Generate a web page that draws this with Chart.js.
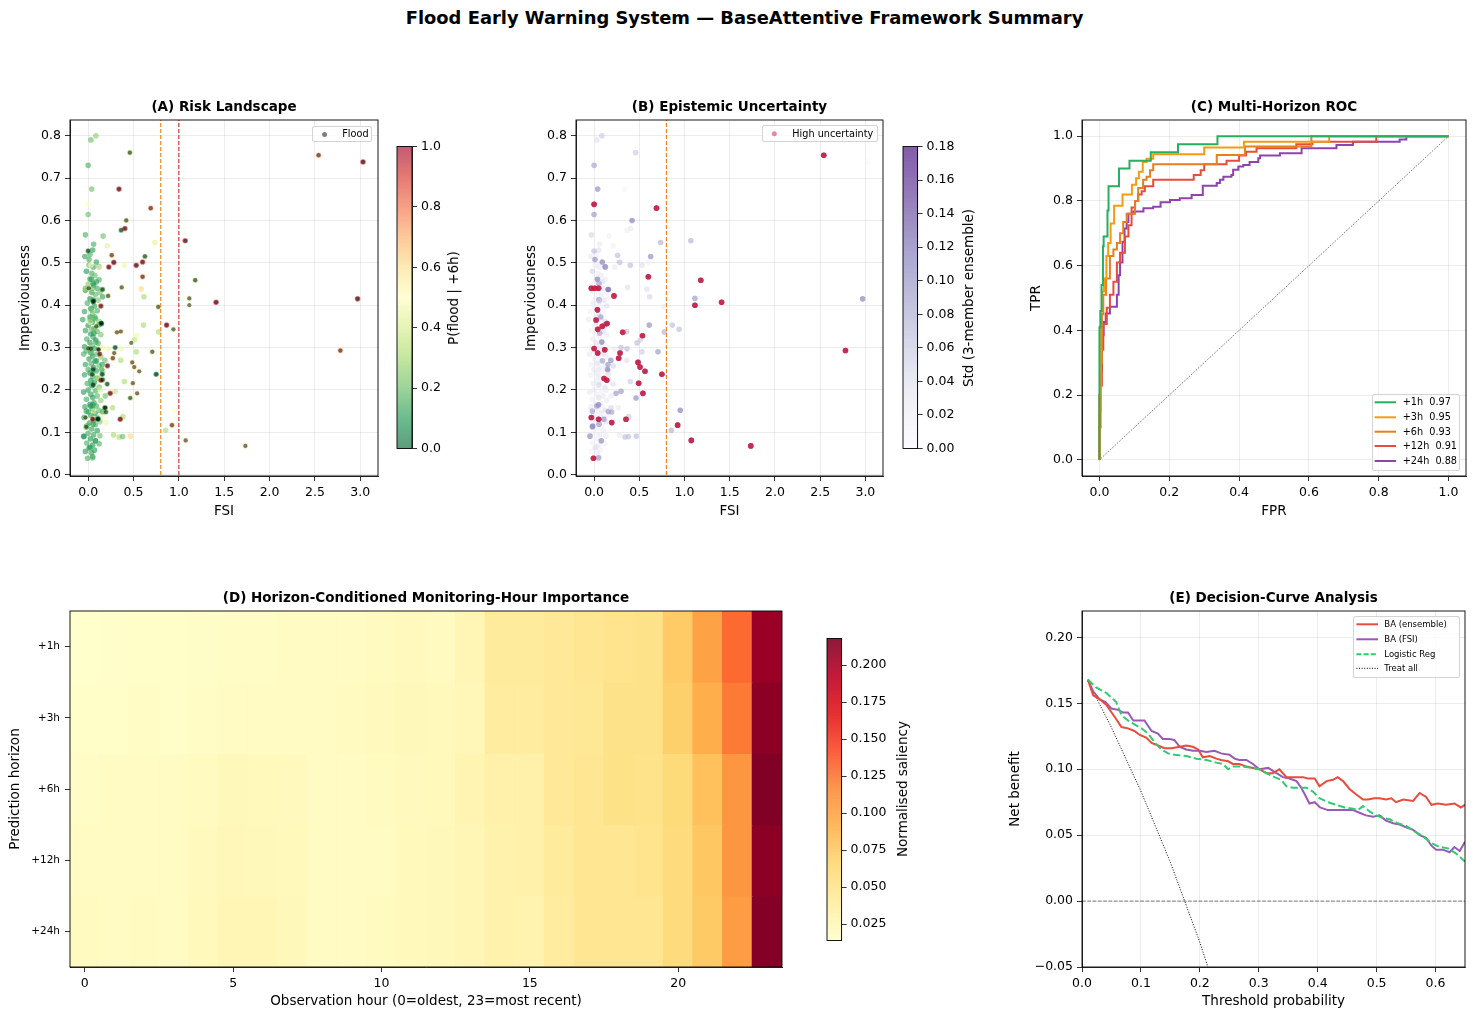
<!DOCTYPE html>
<html><head><meta charset="utf-8">
<script src="https://cdn.jsdelivr.net/npm/chart.js@4.4.1/dist/chart.umd.min.js"></script>
<style>
body{margin:0;width:1475px;height:1020px;overflow:hidden;background:#fff;position:relative;font-family:"DejaVu Sans",sans-serif;}
canvas{position:absolute;}
.lg{position:absolute;border:1px solid rgba(204,204,204,0.85);border-radius:2.5px;background:rgba(255,255,255,0.8);box-sizing:border-box;}
.lg .row{position:absolute;white-space:pre;color:#000;}
.cbl{position:absolute;transform:translate(-50%,-50%) rotate(-90deg);white-space:nowrap;font-size:13.5px;line-height:16px;}
#sup{position:absolute;top:7px;left:7px;width:1475px;text-align:center;font-weight:bold;font-size:17.9px;line-height:22px;}
</style></head><body>
<div id="sup">Flood Early Warning System — BaseAttentive Framework Summary</div>
<script>
// ---------------- DATA ----------------
// sites: [FSI, imperviousness, P(flood | +6h), ensemble std, flooded(1/0)]
const sites = [
[-0.036,0.515,0.12,0.03,0],[0.02,0.52,0.15,0.02,0],[0.05,0.53,0.1,0.04,0],[0.01,0.495,0.18,0.02,0],[0.055,0.49,0.12,0.03,0],[-0.02,0.48,0.1,0.05,0],[0.04,0.475,0.15,0.02,0],[0.075,0.47,0.2,0.03,0],[0.02,0.462,0.12,0.02,0],[0.09,0.455,0.1,0.04,0],[0.12,0.46,0.15,0.03,0],[0.0,0.45,0.25,0.02,0],[0.06,0.447,0.12,0.02,0],
[0.1,0.44,0.14,0.03,0],[-0.03,0.435,0.1,0.04,0],[0.04,0.43,0.12,0.02,0],[0.08,0.425,0.18,0.03,0],[0.13,0.43,0.2,0.02,0],[0.02,0.415,0.1,0.03,0],[0.11,0.412,0.22,0.04,0],[0.16,0.42,0.12,0.02,0],[-0.01,0.405,0.15,0.03,0],[0.07,0.398,0.12,0.02,0],[0.03,0.392,0.1,0.03,0],[0.1,0.387,0.15,0.02,0],[0.05,0.38,0.2,0.04,0],[-0.04,0.385,0.12,0.02,0],
[0.02,0.372,0.1,0.03,0],[0.08,0.368,0.15,0.02,0],[-0.06,0.366,0.12,0.03,0],[0.045,0.36,0.12,0.02,0],[0.12,0.362,0.25,0.04,0],[0.0,0.352,0.1,0.02,0],[0.065,0.345,0.15,0.03,0],[-0.03,0.34,0.12,0.02,0],[0.1,0.338,0.18,0.04,0],[0.03,0.332,0.1,0.02,0],[0.14,0.33,0.22,0.03,0],[0.055,0.325,0.12,0.02,0],[-0.015,0.32,0.15,0.03,0],[0.085,0.318,0.1,0.02,0],[0.02,0.312,0.12,0.04,0],[0.11,0.31,0.15,0.02,0],[0.045,0.305,0.2,0.03,0],[-0.04,0.302,0.1,0.02,0],
[0.07,0.298,0.12,0.03,0],[-0.02,0.292,0.15,0.02,0],[0.03,0.288,0.12,0.03,0],[0.1,0.285,0.18,0.04,0],[0.05,0.28,0.1,0.02,0],[-0.05,0.285,0.15,0.03,0],[0.14,0.278,0.25,0.02,0],[0.01,0.273,0.12,0.03,0],[0.075,0.268,0.1,0.02,0],[0.035,0.262,0.15,0.04,0],[-0.03,0.26,0.12,0.02,0],[0.12,0.258,0.2,0.03,0],[0.06,0.253,0.1,0.02,0],[0.0,0.248,0.15,0.03,0],[0.09,0.245,0.12,0.02,0],[0.02,0.24,0.1,0.03,0],[0.16,0.245,0.3,0.04,0],[-0.04,0.236,0.12,0.02,0],[0.05,0.232,0.15,0.03,0],[0.1,0.228,0.18,0.02,0],[0.03,0.222,0.1,0.03,0],
[0.07,0.218,0.12,0.02,0],[-0.01,0.215,0.15,0.03,0],[0.04,0.21,0.1,0.02,0],[0.12,0.207,0.2,0.04,0],[0.0,0.2,0.12,0.03,0],[0.08,0.198,0.15,0.02,0],[-0.05,0.195,0.1,0.03,0],[0.03,0.19,0.12,0.02,0],[0.1,0.186,0.18,0.03,0],[0.05,0.182,0.1,0.04,0],[-0.02,0.178,0.15,0.02,0],[0.14,0.175,0.25,0.03,0],[0.065,0.17,0.12,0.02,0],[0.02,0.166,0.1,0.03,0],[0.09,0.162,0.15,0.02,0],[-0.035,0.16,0.12,0.03,0],[0.045,0.155,0.1,0.02,0],[0.12,0.152,0.2,0.04,0],[0.0,0.148,0.15,0.02,0],[0.075,0.145,0.1,0.03,0],
[0.03,0.14,0.12,0.02,0],[-0.045,0.135,0.1,0.03,0],[0.1,0.135,0.18,0.02,0],[0.06,0.128,0.1,0.03,0],[0.015,0.122,0.12,0.02,0],[0.13,0.125,0.25,0.04,0],[0.08,0.118,0.15,0.02,0],[-0.02,0.112,0.1,0.03,0],[0.04,0.108,0.12,0.02,0],[0.1,0.104,0.1,0.03,0],[0.0,0.098,0.15,0.02,0],[0.06,0.094,0.12,0.03,0],[-0.05,0.09,0.1,0.02,0],[0.13,0.092,0.2,0.03,0],[0.025,0.085,0.1,0.02,0],[0.08,0.08,0.12,0.03,0],[-0.015,0.075,0.15,0.02,0],[0.05,0.07,0.1,0.03,0],[0.12,0.073,0.15,0.02,0],[0.01,0.063,0.12,0.03,0],[0.07,0.058,0.1,0.02,0],[0.035,0.052,0.12,0.03,0],[-0.03,0.055,0.1,0.02,0],[0.05,0.043,0.15,0.02,0],[0.02,0.065,0.1,0.04,0],
[0.03,0.495,0.5,0.02,0],[-0.03,0.44,0.45,0.03,0],[0.16,0.3,0.45,0.02,0],[0.13,0.2,0.4,0.03,0],[0.15,0.14,0.45,0.02,0],[0.02,0.36,0.45,0.04,0],[0.06,0.15,0.4,0.02,0],
[0.055,0.408,0.1,0.03,1],[0.147,0.357,0.1,0.04,1],[0.03,0.297,0.15,0.03,1],[0.11,0.296,0.2,0.04,1],[0.055,0.248,0.1,0.03,1],[0.045,0.237,0.15,0.02,1],[0.16,0.224,0.2,0.03,1],[0.055,0.212,0.1,0.05,1],[0.185,0.158,0.15,0.03,1],[0.11,0.132,0.1,0.04,1],[0.127,0.285,0.85,0.03,1],
[0.01,0.508,0.15,0.11,0],[0.09,0.502,0.12,0.12,0],[0.12,0.491,0.15,0.1,0],[0.037,0.461,0.12,0.12,0],[0.055,0.451,0.1,0.09,0],[0.155,0.437,0.2,0.12,0],[0.055,0.413,0.12,0.11,0],[0.074,0.372,0.15,0.1,0],[0.12,0.354,0.12,0.12,0],[0.063,0.334,0.1,0.09,0],[0.085,0.313,0.15,0.12,0],[0.185,0.27,0.2,0.11,0],[0.155,0.26,0.12,0.1,0],[0.148,0.248,0.15,0.12,0],[0.092,0.269,0.1,0.09,0],[0.05,0.165,0.12,0.12,0],[0.03,0.162,0.1,0.1,0],[-0.02,0.15,0.12,0.09,0],[0.158,0.149,0.15,0.1,0],[-0.015,0.115,0.1,0.12,0],[0.055,0.119,0.12,0.1,0],[-0.045,0.091,0.1,0.11,0],[0.08,0.08,0.12,0.11,0],[0.05,0.04,0.15,0.1,0],
[0.03,0.79,0.2,0.04,0],[0.085,0.80,0.25,0.06,0],[0.46,0.76,0.3,0.06,1],[0.0,0.73,0.15,0.09,0],[0.04,0.674,0.2,0.11,0],[0.34,0.674,0.92,0.01,1],[0.0,0.638,0.5,0.16,0],[0.69,0.629,0.75,0.15,1],[0.0,0.614,0.2,0.1,0],[0.42,0.60,0.35,0.12,1],
[0.405,0.581,0.92,0.03,1],[0.364,0.577,0.2,0.02,1],[-0.03,0.566,0.15,0.05,0],[0.165,0.563,0.2,0.02,0],[1.07,0.552,0.92,0.08,1],[0.736,0.548,0.42,0.08,0],[0.21,0.54,0.42,0.02,0],[0.06,0.544,0.15,0.03,0],[0.0,0.528,0.15,0.07,1],[0.26,0.518,0.7,0.07,1],
[0.283,0.501,0.92,0.07,1],[0.228,0.49,0.92,0.03,1],[0.53,0.494,0.92,0.04,1],[0.60,0.502,0.92,0.02,1],[0.626,0.515,0.25,0.11,1],[0.40,0.494,0.45,0.07,0],[0.125,0.49,0.55,0.1,0],[0.60,0.467,0.75,0.16,1],[1.18,0.459,0.3,0.15,1],[0.37,0.442,0.4,0.04,1],
[0.585,0.438,0.62,0.04,0],[0.007,0.44,0.3,0.16,1],[0.158,0.437,0.2,0.12,1],[0.615,0.42,0.3,0.05,0],[0.22,0.422,0.35,0.15,1],[1.115,0.416,0.4,0.1,1],[1.115,0.40,0.5,0.15,1],[1.41,0.407,0.95,0.15,1],[2.97,0.415,0.95,0.12,1],[0.773,0.396,0.35,0.03,1],
[0.14,0.398,0.9,0.04,1],[0.06,0.41,0.1,0.05,1],[0.865,0.353,0.95,0.07,1],[0.94,0.343,0.4,0.07,1],[0.61,0.353,0.3,0.11,0],[0.777,0.337,0.3,0.08,0],[0.317,0.336,0.6,0.15,1],[0.36,0.338,0.6,0.07,1],[0.535,0.328,0.45,0.15,0],[0.143,0.357,0.1,0.15,1],
[0.09,0.35,0.3,0.15,1],[0.475,0.311,0.5,0.07,1],[0.51,0.318,0.35,0.06,0],[0.298,0.30,0.15,0.07,1],[0.707,0.29,0.35,0.1,1],[0.53,0.29,0.3,0.06,0],[0.287,0.287,0.6,0.15,1],[2.78,0.293,0.75,0.16,1],[0.364,0.297,0.45,0.07,0],[0.224,0.297,0.45,0.03,0],
[0.118,0.295,0.5,0.15,1],[0.272,0.275,0.7,0.15,1],[0.486,0.265,0.6,0.16,1],[0.508,0.254,0.6,0.15,1],[0.563,0.244,0.55,0.15,1],[0.36,0.27,0.3,0.04,0],[0.213,0.257,0.9,0.05,1],[0.75,0.237,0.1,0.15,1],[0.155,0.237,0.1,0.04,1],[0.40,0.22,0.3,0.06,0],
[0.493,0.216,0.6,0.16,1],[0.14,0.223,0.9,0.15,1],[0.21,0.214,0.2,0.04,1],[0.298,0.197,0.35,0.1,0],[0.243,0.192,0.9,0.1,1],[0.54,0.192,0.6,0.15,1],[0.464,0.181,0.3,0.11,1],[0.188,0.186,0.2,0.03,0],[0.953,0.152,0.5,0.12,0],[0.188,0.158,0.2,0.04,1],
[0.195,0.148,0.2,0.09,1],[0.268,0.158,0.3,0.03,0],[0.383,0.137,0.3,0.06,0],[0.353,0.131,0.9,0.15,1],[0.107,0.131,0.1,0.1,1],[0.05,0.131,0.85,0.15,1],[0.924,0.117,0.7,0.16,1],[0.195,0.123,0.45,0.15,0],[0.854,0.105,0.3,0.08,0],[0.467,0.091,0.62,0.07,0],
[0.28,0.094,0.3,0.03,0],[0.342,0.089,0.3,0.07,0],[0.38,0.09,0.2,0.07,0],[1.075,0.081,0.6,0.16,1],[1.733,0.068,0.6,0.16,1],[2.54,0.754,0.75,0.17,1],[3.03,0.738,0.95,0.01,1],[-0.007,0.039,0.15,0.15,0],[-0.03,0.135,0.3,0.15,1],[-0.02,0.113,0.3,0.1,1],
[0.022,0.365,0.2,0.15,0],[0.037,0.389,0.2,0.15,0],[0.04,0.343,0.2,0.15,0],[0.0,0.298,0.3,0.15,1],[0.04,0.287,0.2,0.15,0],[0.11,0.227,0.3,0.15,0],[-0.03,0.44,0.2,0.16,0],[0.05,0.44,0.2,0.16,0]
];
const fsiThresholds = [0.8, 1.0];          // orange: alert, red: danger
const uncThreshold = 0.14;                 // std above which a site is "High uncertainty"
const stdMax = 0.18;
const fsiTicks = [0,0.5,1.0,1.5,2.0,2.5,3.0];
const impTicks = [0,0.1,0.2,0.3,0.4,0.5,0.6,0.7,0.8];
const probTicks = [0,0.2,0.4,0.6,0.8,1.0];
const stdTicks = [0,0.02,0.04,0.06,0.08,0.10,0.12,0.14,0.16,0.18];

const horizons = ['+1h','+3h','+6h','+12h','+24h'];
const rocAuc = [0.97,0.95,0.93,0.91,0.88];
const roc1h = [[0,0],[0,0.41],[0.003,0.41],[0.003,0.46],[0.006,0.46],[0.006,0.54],[0.01,0.54],[0.01,0.66],[0.012,0.66],[0.012,0.69],[0.023,0.69],[0.023,0.77],[0.026,0.77],[0.026,0.845],[0.056,0.845],[0.056,0.90],[0.086,0.90],[0.086,0.924],[0.147,0.924],[0.147,0.95],[0.225,0.95],[0.225,0.975],[0.338,0.975],[0.338,1.0],[1,1]];
const roc3h = [[0,0],[0,0.2],[0.002,0.2],[0.002,0.35],[0.004,0.35],[0.004,0.46],[0.008,0.46],[0.008,0.52],[0.013,0.52],[0.013,0.56],[0.02,0.56],[0.02,0.63],[0.025,0.63],[0.025,0.67],[0.032,0.67],[0.032,0.73],[0.042,0.73],[0.042,0.785],[0.066,0.785],[0.066,0.82],[0.093,0.82],[0.093,0.85],[0.105,0.85],[0.105,0.87],[0.113,0.87],[0.113,0.89],[0.124,0.89],[0.124,0.92],[0.135,0.92],[0.135,0.93],[0.154,0.93],[0.154,0.944],[0.30,0.944],[0.30,0.965],[0.414,0.965],[0.414,0.983],[0.658,0.983],[0.658,1.0],[1,1]];
const roc6h = [[0,0],[0,0.15],[0.003,0.15],[0.003,0.30],[0.007,0.30],[0.007,0.45],[0.011,0.45],[0.011,0.51],[0.019,0.51],[0.019,0.56],[0.03,0.56],[0.03,0.63],[0.04,0.63],[0.04,0.65],[0.05,0.65],[0.05,0.67],[0.059,0.67],[0.059,0.70],[0.068,0.70],[0.068,0.735],[0.078,0.735],[0.078,0.76],[0.102,0.76],[0.102,0.80],[0.111,0.80],[0.111,0.84],[0.125,0.84],[0.125,0.865],[0.135,0.865],[0.135,0.875],[0.145,0.875],[0.145,0.895],[0.154,0.895],[0.154,0.913],[0.336,0.913],[0.336,0.942],[0.417,0.942],[0.417,0.968],[0.607,0.968],[0.607,1.0],[1,1]];
const roc12h = [[0,0],[0,0.10],[0.003,0.10],[0.003,0.23],[0.007,0.23],[0.007,0.34],[0.011,0.34],[0.011,0.42],[0.021,0.42],[0.021,0.47],[0.03,0.47],[0.03,0.51],[0.04,0.51],[0.04,0.55],[0.05,0.55],[0.05,0.61],[0.059,0.61],[0.059,0.64],[0.073,0.64],[0.073,0.69],[0.083,0.69],[0.083,0.725],[0.092,0.725],[0.092,0.78],[0.102,0.78],[0.102,0.80],[0.111,0.80],[0.111,0.82],[0.121,0.82],[0.121,0.83],[0.13,0.83],[0.13,0.845],[0.154,0.845],[0.154,0.865],[0.27,0.865],[0.27,0.88],[0.29,0.88],[0.29,0.895],[0.3,0.895],[0.3,0.913],[0.364,0.913],[0.364,0.924],[0.40,0.924],[0.40,0.94],[0.42,0.94],[0.42,0.952],[0.45,0.952],[0.45,0.963],[0.564,0.963],[0.564,0.975],[0.61,0.975],[0.61,0.983],[0.793,0.983],[0.793,1.0],[1,1]];
const roc24h = [[0,0],[0,0.2],[0.002,0.2],[0.002,0.28],[0.007,0.28],[0.007,0.385],[0.012,0.385],[0.012,0.426],[0.018,0.426],[0.018,0.452],[0.03,0.452],[0.03,0.473],[0.05,0.473],[0.05,0.51],[0.055,0.51],[0.055,0.57],[0.059,0.57],[0.059,0.61],[0.066,0.61],[0.066,0.674],[0.072,0.674],[0.072,0.715],[0.078,0.715],[0.078,0.735],[0.083,0.735],[0.083,0.76],[0.097,0.76],[0.097,0.767],[0.126,0.767],[0.126,0.777],[0.154,0.777],[0.154,0.782],[0.175,0.782],[0.175,0.796],[0.202,0.796],[0.202,0.803],[0.23,0.803],[0.23,0.808],[0.264,0.808],[0.264,0.818],[0.296,0.818],[0.296,0.847],[0.336,0.847],[0.336,0.855],[0.345,0.855],[0.345,0.865],[0.355,0.865],[0.355,0.875],[0.378,0.875],[0.378,0.88],[0.383,0.88],[0.383,0.896],[0.398,0.896],[0.398,0.906],[0.412,0.906],[0.412,0.911],[0.43,0.911],[0.43,0.92],[0.455,0.92],[0.455,0.932],[0.46,0.932],[0.46,0.94],[0.517,0.94],[0.517,0.947],[0.579,0.947],[0.579,0.963],[0.679,0.963],[0.679,0.973],[0.726,0.973],[0.726,0.983],[0.86,0.983],[0.86,0.99],[0.879,0.99],[0.879,1.0],[1,1]];
const rocTicks = [0,0.2,0.4,0.6,0.8,1.0];

const hours = [0,1,2,3,4,5,6,7,8,9,10,11,12,13,14,15,16,17,18,19,20,21,22,23];
const hourTicks = [0,5,10,15,20];
const sal1h  = [0.014,0.015,0.016,0.016,0.017,0.018,0.018,0.019,0.019,0.020,0.021,0.022,0.021,0.028,0.042,0.042,0.0445,0.048,0.051,0.053,0.074,0.101,0.130,0.207];
const sal3h  = [0.016,0.016,0.018,0.016,0.018,0.019,0.019,0.020,0.020,0.021,0.022,0.024,0.023,0.026,0.041,0.041,0.044,0.046,0.053,0.053,0.071,0.093,0.124,0.213];
const sal6h  = [0.018,0.019,0.019,0.019,0.021,0.024,0.023,0.022,0.020,0.020,0.021,0.022,0.023,0.029,0.034,0.034,0.044,0.048,0.054,0.052,0.063,0.081,0.110,0.218];
const sal12h = [0.020,0.019,0.020,0.019,0.022,0.025,0.024,0.023,0.019,0.020,0.020,0.023,0.024,0.027,0.032,0.034,0.042,0.048,0.048,0.051,0.061,0.077,0.110,0.213];
const sal24h = [0.021,0.020,0.021,0.020,0.023,0.027,0.027,0.024,0.020,0.020,0.021,0.023,0.024,0.027,0.032,0.031,0.041,0.048,0.048,0.048,0.061,0.075,0.106,0.216];
const salTicks = [0.025,0.050,0.075,0.100,0.125,0.150,0.175,0.200];

const dcaEnsemble = [[0.01,0.168],[0.019,0.156],[0.03,0.153],[0.041,0.149],[0.055,0.14],[0.067,0.132],[0.078,0.131],[0.089,0.129],[0.098,0.126],[0.109,0.124],[0.118,0.12],[0.129,0.118],[0.14,0.116],[0.152,0.116],[0.166,0.117],[0.177,0.118],[0.188,0.117],[0.197,0.115],[0.205,0.109],[0.217,0.11],[0.228,0.108],[0.236,0.107],[0.248,0.106],[0.256,0.104],[0.267,0.104],[0.279,0.102],[0.29,0.101],[0.301,0.1],[0.313,0.097],[0.324,0.097],[0.335,0.1],[0.347,0.094],[0.358,0.094],[0.375,0.094],[0.383,0.093],[0.395,0.093],[0.403,0.087],[0.415,0.091],[0.426,0.092],[0.434,0.094],[0.443,0.091],[0.454,0.085],[0.465,0.081],[0.477,0.077],[0.485,0.077],[0.496,0.078],[0.505,0.078],[0.516,0.077],[0.525,0.078],[0.533,0.075],[0.545,0.077],[0.562,0.076],[0.573,0.082],[0.584,0.079],[0.593,0.073],[0.604,0.074],[0.618,0.073],[0.632,0.074],[0.643,0.071],[0.65,0.073]];
const dcaFsi = [[0.01,0.168],[0.019,0.159],[0.03,0.153],[0.04,0.151],[0.05,0.146],[0.061,0.145],[0.07,0.143],[0.078,0.143],[0.087,0.137],[0.097,0.137],[0.106,0.137],[0.118,0.129],[0.129,0.127],[0.137,0.123],[0.149,0.123],[0.157,0.122],[0.166,0.117],[0.177,0.115],[0.188,0.114],[0.2,0.114],[0.211,0.113],[0.225,0.114],[0.236,0.112],[0.25,0.111],[0.259,0.108],[0.267,0.107],[0.279,0.107],[0.29,0.104],[0.301,0.1],[0.316,0.101],[0.33,0.097],[0.341,0.094],[0.352,0.093],[0.364,0.091],[0.372,0.086],[0.378,0.081],[0.386,0.074],[0.395,0.075],[0.404,0.071],[0.417,0.069],[0.431,0.069],[0.443,0.069],[0.46,0.069],[0.471,0.067],[0.482,0.065],[0.494,0.064],[0.505,0.065],[0.516,0.061],[0.528,0.059],[0.539,0.058],[0.55,0.056],[0.562,0.054],[0.573,0.05],[0.584,0.048],[0.593,0.042],[0.601,0.039],[0.612,0.039],[0.624,0.037],[0.632,0.041],[0.641,0.038],[0.65,0.045]];
const dcaLogit = [[0.01,0.168],[0.024,0.162],[0.041,0.158],[0.058,0.151],[0.067,0.141],[0.078,0.137],[0.089,0.134],[0.101,0.131],[0.112,0.127],[0.124,0.12],[0.135,0.115],[0.146,0.112],[0.157,0.111],[0.177,0.11],[0.194,0.108],[0.211,0.107],[0.228,0.105],[0.239,0.104],[0.248,0.1],[0.256,0.102],[0.273,0.102],[0.29,0.101],[0.301,0.1],[0.313,0.097],[0.327,0.094],[0.338,0.092],[0.347,0.087],[0.358,0.086],[0.369,0.086],[0.381,0.086],[0.392,0.083],[0.403,0.078],[0.417,0.075],[0.431,0.073],[0.446,0.071],[0.46,0.07],[0.468,0.069],[0.477,0.072],[0.488,0.068],[0.499,0.065],[0.511,0.063],[0.522,0.062],[0.536,0.059],[0.55,0.057],[0.564,0.053],[0.579,0.049],[0.593,0.044],[0.607,0.041],[0.621,0.04],[0.635,0.036],[0.65,0.03]];
const dcaTreatAll = [[0.01,0.1667],[0.05,0.1316],[0.1,0.0833],[0.15,0.0294],[0.2,-0.0313],[0.25,-0.1]];
const dcaXTicks = [0,0.1,0.2,0.3,0.4,0.5,0.6];
const dcaYTicks = [-0.05,0,0.05,0.10,0.15,0.20];

// ---------------- STYLE / HELPERS ----------------
Chart.defaults.font.family = 'DejaVu Sans';
Chart.defaults.color = '#000';
Chart.defaults.animation = false;
Chart.defaults.events = [];
Chart.defaults.plugins.legend.display = false;
Chart.defaults.plugins.tooltip.enabled = false;

const hex = h => [parseInt(h.slice(1,3),16),parseInt(h.slice(3,5),16),parseInt(h.slice(5,7),16)];
function makeCmap(list){ const st=list.map(hex); const n=st.length-1;
  return t => { t=Math.min(1,Math.max(0,t)); const f=t*n; const i=Math.min(n-1,Math.floor(f)); const u=f-i;
    return [0,1,2].map(k=>st[i][k]+(st[i+1][k]-st[i][k])*u); }; }
const rgba = (c,a) => `rgba(${Math.round(c[0])},${Math.round(c[1])},${Math.round(c[2])},${a})`;
const rdylgnR = makeCmap(['#006837','#1a9850','#66bd63','#a6d96a','#d9ef8b','#ffffbf','#fee08b','#fdae61','#f46d43','#d73027','#a50026']);
const purples = makeCmap(['#fcfbfd','#efedf5','#dadaeb','#bcbddc','#9e9ac8','#807dba','#6a51a3','#54278f','#3f007d']);
const ylorrd = makeCmap(['#ffffcc','#ffeda0','#fed976','#feb24c','#fd8d3c','#fc4e2a','#e31a1c','#bd0026','#800026']);

function mkCanvas(left, top, w, h){ const c=document.createElement('canvas'); c.width=w; c.height=h;
  Object.assign(c.style,{left:left+'px',top:top+'px',width:w+'px',height:h+'px'}); document.body.appendChild(c); return c; }

const GRID = 'rgba(176,176,176,0.3)';
function linAxis(o){
  return { type:'linear', position:o.position, min:o.min, max:o.max, reverse:!!o.reverse,
    afterBuildTicks: s => { s.ticks = o.ticks.map(v=>({value:v})); },
    afterFit: s => { if (o.horizontal) s.height = o.fit; else s.width = o.fit; },
    ticks:{ callback:v=>o.fmt(v), font:{size:o.fs||12.5}, padding:o.tpad!==undefined?o.tpad:4, autoSkip:false, maxRotation:0, color:'#000' },
    grid:{ color:GRID, lineWidth:0.8, drawOnChartArea:o.grid!==false, tickColor:'#000', tickLength:5, tickWidth:0.8 },
    border:{ color:'#000', width:0.8 },
    title: o.title ? {display:true, text:o.title, font:{size:13.5}, padding:o.titlePad, color:'#000'} : {display:false}
  };
}
// invisible right-hand spacer so that the panel title is centred over the plot area
const spacer = w => ({ type:'linear', position:'right', display:true, min:0, max:1,
  ticks:{display:false}, grid:{display:false, drawTicks:false}, border:{display:false}, title:{display:false},
  afterFit: s => { s.width = w; } });
const f1 = v => v.toFixed(1);
const f2 = v => (v<0?'\u2212':'') + Math.abs(v).toFixed(2);
const f3 = v => v.toFixed(3);
const titleCfg = t => ({display:true, text:t, font:{size:13.5, weight:'bold'}, padding:{top:9.2,bottom:4.6}, color:'#000'});
Chart.register({ id:'frame', afterDraw(chart){ const a=chart.chartArea, c=chart.ctx; c.save(); c.strokeStyle='#000'; c.lineWidth=0.9;
  c.strokeRect(a.left, a.top, a.right-a.left, a.bottom-a.top); c.restore(); }});
const gradPlugin = fn => ({ id:'grad', beforeDatasetsDraw(chart){ const a=chart.chartArea, c=chart.ctx, y=chart.scales.y; c.save();
  for (let py=a.top; py<a.bottom; py+=1){ c.fillStyle = fn(y.getValueForPixel(Math.min(py+0.5,a.bottom))); c.fillRect(a.left, py, a.right-a.left, Math.min(1.3, a.bottom-py)); }
  c.restore(); }});
const pts = arr => arr.map(p=>({x:p[0],y:p[1]}));
const lineDs = (data, color, width, dash, order) => ({data, showLine:true, pointRadius:0, borderColor:color, borderWidth:width, borderDash:dash||[], fill:false, tension:0, order:order||0});
const vline = (x, color) => lineDs([{x, y:-0.1},{x, y:1}], color, 1.1, [4,2], 0);

function colorbar(left, cbTop, cbBottom, barW, w, min, max, ticks, fmt, fn){
  const pad = 11.5;
  new Chart(mkCanvas(left, cbTop-pad, w, cbBottom-cbTop+2*pad), { type:'scatter', data:{datasets:[]},
    options:{ responsive:false, layout:{padding:{left:8,top:pad,bottom:pad,right:0}},
      scales:{ x:{display:false,min:0,max:1}, y: linAxis({position:'right', min, max, ticks, fmt, fit:w-8-barW, grid:false}) } },
    plugins:[gradPlugin(fn)] });
}
function cbLabel(text, x, y){ const d=document.createElement('div'); d.className='cbl'; d.textContent=text; d.style.left=x+'px'; d.style.top=y+'px'; document.body.appendChild(d); }
function addLegend(box, rows, fs){
  const d=document.createElement('div'); d.className='lg';
  Object.assign(d.style,{left:box.x+'px',top:box.y+'px',width:box.w+'px',height:box.h+'px'});
  const ns='http://www.w3.org/2000/svg'; const svg=document.createElementNS(ns,'svg');
  svg.setAttribute('width',box.w); svg.setAttribute('height',box.h);
  Object.assign(svg.style,{position:'absolute',left:'-1px',top:'-1px',overflow:'visible'});
  rows.forEach(r=>{
    if (r.dot){ const c=document.createElementNS(ns,'circle'); c.setAttribute('cx',r.mx-box.x); c.setAttribute('cy',r.y-box.y); c.setAttribute('r',2.5); c.setAttribute('fill',r.color); svg.appendChild(c); }
    else { const l=document.createElementNS(ns,'line'); l.setAttribute('x1',r.x0-box.x); l.setAttribute('x2',r.x1-box.x); l.setAttribute('y1',r.y-box.y); l.setAttribute('y2',r.y-box.y);
      l.setAttribute('stroke',r.color); l.setAttribute('stroke-width',r.lw); if (r.dash) l.setAttribute('stroke-dasharray',r.dash); svg.appendChild(l); }
    const t=document.createElement('div'); t.className='row'; t.textContent=r.text;
    Object.assign(t.style,{left:(r.tx-box.x-1)+'px', top:(r.y-box.y-1-fs*0.6)+'px', fontSize:fs+'px', height:(fs*1.2)+'px', lineHeight:(fs*1.2)+'px'});
    d.appendChild(t);
  });
  d.appendChild(svg); document.body.appendChild(d);
}

// ---------------- (A) Risk landscape ----------------
const floodSites = sites.filter(s=>s[4]===1);
const highSites = sites.filter(s=>s[3]>=uncThreshold);
new Chart(mkCanvas(0,90,448,430), { type:'scatter',
  data:{ datasets:[
    vline(fsiThresholds[0], '#ef7f1a'), vline(fsiThresholds[1], '#d62728'),
    { data:pts(floodSites), pointRadius:2.1, borderWidth:0, backgroundColor:'rgba(0,0,0,0.5)', order:1 },
    { data:pts(sites), pointRadius:2.8, borderWidth:0, backgroundColor:sites.map(s=>rgba(rdylgnR(s[2]),0.6)), order:3 }
  ]},
  options:{ responsive:false, layout:{padding:0},
    plugins:{ title:titleCfg('(A) Risk Landscape') },
    scales:{
      x: linAxis({min:-0.2,max:3.195,ticks:fsiTicks,fmt:f1,horizontal:true,fit:44,title:'FSI',titlePad:{top:2,bottom:0.9}}),
      y: linAxis({min:-0.003,max:0.837,ticks:impTicks,fmt:f1,fit:70,title:'Imperviousness',titlePad:{top:16.9,bottom:0}}),
      yr: spacer(70)
    } } });
colorbar(389, 146.7, 449, 15, 90, 0, 1, probTicks, f1, v=>rgba(rdylgnR(v),0.6));

// ---------------- (B) Epistemic uncertainty ----------------
new Chart(mkCanvas(500,90,459,430), { type:'scatter',
  data:{ datasets:[
    vline(fsiThresholds[0], '#ef7f1a'),
    { data:pts(highSites), pointRadius:2.8, borderWidth:0, backgroundColor:'rgba(214,24,56,0.82)', order:1 },
    { data:pts(sites), pointRadius:2.8, borderWidth:0, backgroundColor:sites.map(s=>rgba(purples(s[3]/stdMax),0.6)), order:3 }
  ]},
  options:{ responsive:false, layout:{padding:0},
    plugins:{ title:titleCfg('(B) Epistemic Uncertainty') },
    scales:{
      x: linAxis({min:-0.2,max:3.195,ticks:fsiTicks,fmt:f1,horizontal:true,fit:44,title:'FSI',titlePad:{top:2,bottom:0.9}}),
      y: linAxis({min:-0.003,max:0.837,ticks:impTicks,fmt:f1,fit:76,title:'Imperviousness',titlePad:{top:23.6,bottom:0}}),
      yr: spacer(76)
    } } });
colorbar(895, 146.7, 449, 14.6, 100, 0, stdMax, stdTicks, f2, v=>rgba(purples(v/stdMax),0.6));

// ---------------- (C) Multi-horizon ROC ----------------
const rocSeries = [roc1h, roc3h, roc6h, roc12h, roc24h];
const rocColors = ['#27ae60','#f39c12','#e67e22','#e74c3c','#8e44ad'];
new Chart(mkCanvas(1020,90,508,430), { type:'scatter',
  data:{ datasets:[
    ...rocSeries.map((r,i)=>lineDs(pts(r), rocColors[i], 2, [], i)),
    lineDs([{x:0,y:0},{x:1,y:1}], 'rgba(0,0,0,0.85)', 0.8, [1,1.4], 6)
  ]},
  options:{ responsive:false, layout:{padding:0},
    plugins:{ title:titleCfg('(C) Multi-Horizon ROC') },
    scales:{
      x: linAxis({min:-0.05,max:1.05,ticks:rocTicks,fmt:f1,horizontal:true,fit:44,title:'FPR',titlePad:{top:2,bottom:0.9}}),
      y: linAxis({min:-0.05,max:1.05,ticks:rocTicks,fmt:f1,fit:62,title:'TPR',titlePad:{top:8.6,bottom:0}}),
      yr: spacer(62)
    } } });

// ---------------- (D) Saliency heatmap ----------------
const saliency = [sal1h, sal3h, sal6h, sal12h, sal24h];
const allSal = [].concat(...saliency);
const vmin = Math.min(...allSal), vmax = Math.max(...allSal);
const salColor = v => rgba(ylorrd((v-vmin)/(vmax-vmin)),1);
new Chart(mkCanvas(0,581,852,439), { type:'bar',
  data:{ labels:hours.map(String), datasets: saliency.map((row,r)=>({
    label:horizons[r], data:hours.map(()=>[r, r+1]), backgroundColor:row.map(salColor),
    borderWidth:0, barPercentage:1, categoryPercentage:1, grouped:false, inflateAmount:0.6 })) },
  options:{ responsive:false, layout:{padding:0},
    plugins:{ title:titleCfg('(D) Horizon-Conditioned Monitoring-Hour Importance') },
    scales:{
      x:{ type:'category', offset:true,
        afterBuildTicks: s => { s.ticks = s.ticks.filter(t=>hourTicks.includes(t.value)); },
        afterFit: s => { s.height = 53; },
        ticks:{ font:{size:12.5}, padding:4, autoSkip:false, maxRotation:0, color:'#000' },
        grid:{ drawOnChartArea:false, offset:false, tickColor:'#000', tickLength:5, tickWidth:0.8 },
        border:{ color:'#000', width:0.8 },
        title:{ display:true, text:'Observation hour (0=oldest, 23=most recent)', font:{size:13.5}, padding:{top:2,bottom:10.2}, color:'#000' } },
      y: linAxis({min:0,max:5,reverse:true,ticks:[0.5,1.5,2.5,3.5,4.5],fmt:v=>horizons[Math.floor(v)],fs:10.5,tpad:5,fit:70,grid:false,title:'Prediction horizon',titlePad:{top:6.9,bottom:0}}),
      yr: spacer(70)
    } } });
colorbar(819, 638.3, 940.3, 14.6, 120, vmin, vmax, salTicks, f3, salColor);

// ---------------- (E) Decision curve ----------------
new Chart(mkCanvas(1000,581,547,439), { type:'scatter',
  data:{ datasets:[
    lineDs(pts(dcaEnsemble), '#e74c3c', 2, [], 1),
    lineDs(pts(dcaFsi), '#9b59b6', 2, [], 2),
    lineDs(pts(dcaLogit), '#2ecc71', 2, [7.4,3.2], 0),
    lineDs(pts(dcaTreatAll), '#000', 1, [1,1.65], 3),
    lineDs([{x:0,y:0},{x:0.65,y:0}], 'rgba(0,0,0,0.5)', 1, [3.7,1.6], 4)
  ]},
  options:{ responsive:false, layout:{padding:0},
    plugins:{ title:titleCfg('(E) Decision-Curve Analysis') },
    scales:{
      x: linAxis({min:0,max:0.65,ticks:dcaXTicks,fmt:f1,horizontal:true,fit:53,title:'Threshold probability',titlePad:{top:2,bottom:10.2}}),
      y: linAxis({min:-0.05,max:0.22,ticks:dcaYTicks,fmt:f2,fit:82,title:'Net benefit',titlePad:{top:6.9,bottom:0}}),
      yr: spacer(82)
    } } });

// ---------------- labels & legends ----------------
cbLabel('P(flood | +6h)', 453, 298);
cbLabel('Std (3-member ensemble)', 968, 298);
cbLabel('Normalised saliency', 901.7, 789);
addLegend({x:311.7,y:125.7,w:60.6,h:16.6}, [{dot:true,mx:324.3,y:134.3,color:'rgba(0,0,0,0.5)',tx:342.3,text:'Flood'}], 9.7);
addLegend({x:761.7,y:125,w:116.6,h:17.3}, [{dot:true,mx:774,y:133.7,color:'rgba(220,20,60,0.5)',tx:792.3,text:'High uncertainty'}], 9.7);
const rocRowsY = [402.3,417.3,431.7,446,461];
addLegend({x:1371.7,y:394,w:88.3,h:77}, horizons.map((h,i)=>({x0:1374.3,x1:1395.7,y:rocRowsY[i],color:rocColors[i],lw:2,tx:1402.7,text:`${h}  ${rocAuc[i].toFixed(2)}`})), 9.7);
addLegend({x:1353.3,y:616,w:106.7,h:61.7}, [
  {x0:1356.7,x1:1378.3,y:624.3,color:'#e74c3c',lw:2,tx:1384.3,text:'BA (ensemble)'},
  {x0:1356.7,x1:1378.3,y:639.3,color:'#9b59b6',lw:2,tx:1384.3,text:'BA (FSI)'},
  {x0:1356.7,x1:1378.3,y:654.3,color:'#2ecc71',lw:2,dash:'5,2.2',tx:1384.3,text:'Logistic Reg'},
  {x0:1356.7,x1:1378.3,y:668.3,color:'#000',lw:1,dash:'1,1.6',tx:1384.3,text:'Treat all'}], 8.5);
</script>
</body></html>
